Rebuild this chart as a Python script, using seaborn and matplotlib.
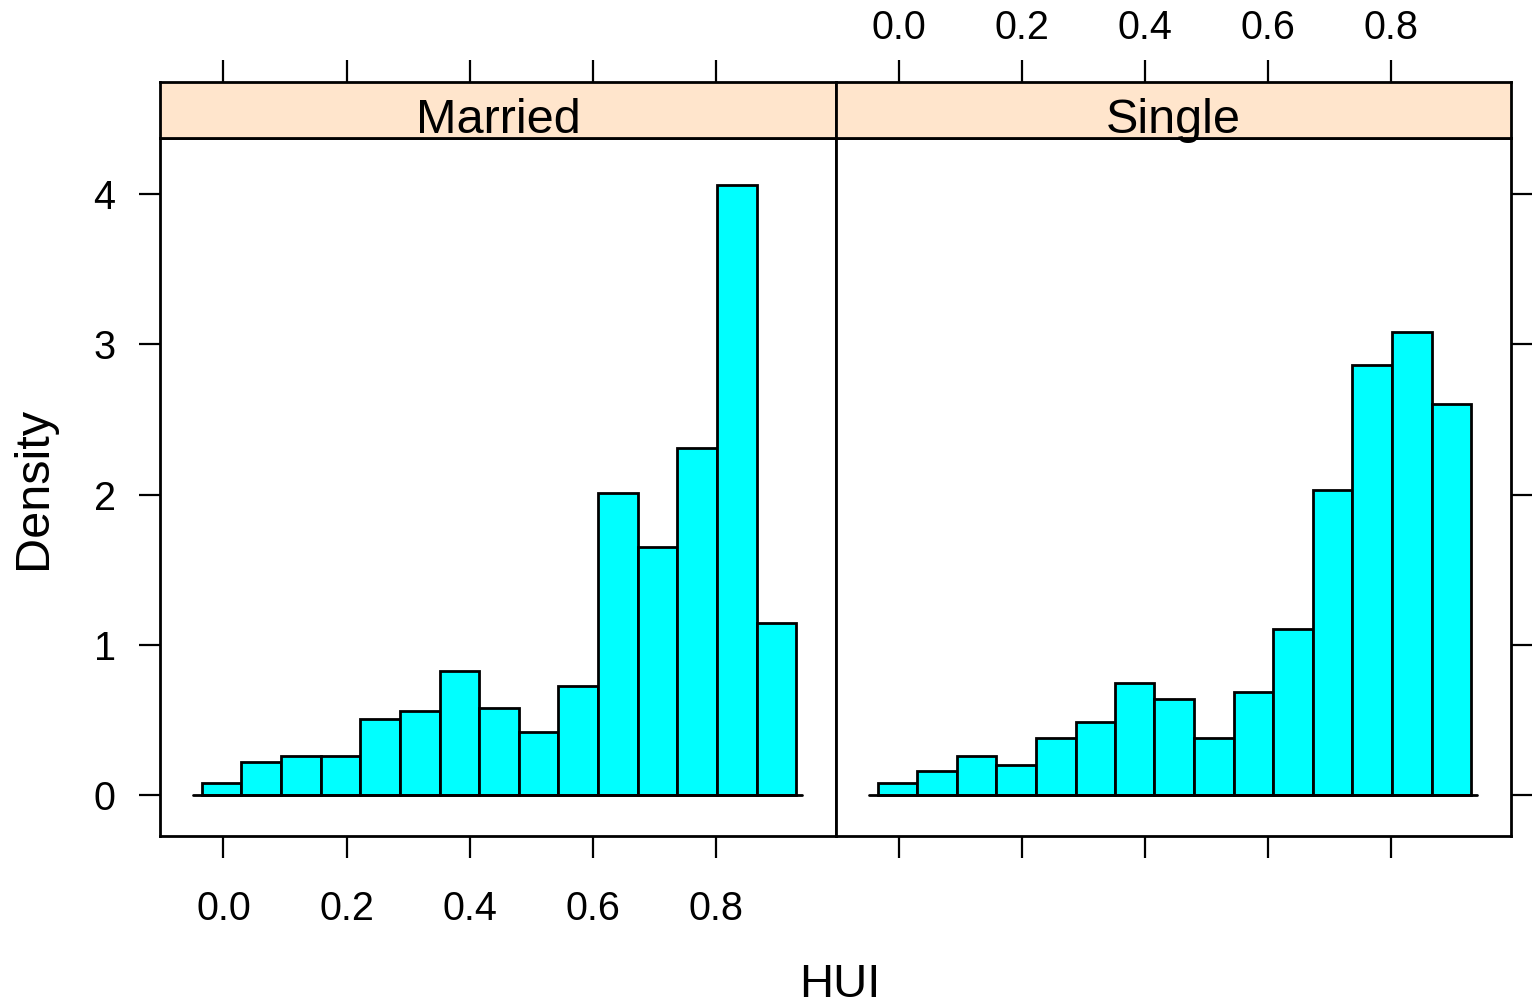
import matplotlib
matplotlib.use("Agg")
import matplotlib.pyplot as plt
import numpy as np
import seaborn as sns

# bin edges shared by both panels (HUI)
edges = [-0.035, 0.029, 0.094, 0.158, 0.222, 0.287, 0.351, 0.415,
         0.480, 0.544, 0.608, 0.673, 0.737, 0.801, 0.866, 0.930]
married = [0.08, 0.22, 0.26, 0.26, 0.505, 0.56, 0.825, 0.58,
           0.42, 0.725, 2.01, 1.65, 2.31, 4.06, 1.145]
single = [0.08, 0.16, 0.26, 0.20, 0.38, 0.485, 0.745, 0.64,
          0.38, 0.685, 1.105, 2.03, 2.86, 3.08, 2.60]
panels = ["Married", "Single"]
xticks = [0.0, 0.2, 0.4, 0.6, 0.8]
yticks = [0, 1, 2, 3, 4]

sns.set_style("white")
plt.rcParams["font.family"] = ["Liberation Sans", "DejaVu Sans"]
plt.rcParams["text.color"] = "black"
plt.rcParams["xtick.color"] = "black"
plt.rcParams["ytick.color"] = "black"
plt.rcParams["axes.labelcolor"] = "black"

W, H = 1533, 1008
fig = plt.figure(figsize=(W / 100, H / 100), dpi=100)

xlim = (-0.103, 0.995)
ylim = (-0.273, 4.374)
centers = [(a + b) / 2 for a, b in zip(edges[:-1], edges[1:])]

# pixel boxes: left, right for each panel; panel top/bottom; strip top
boxes = [(160, 836), (836, 1511)]
p_top, p_bot, s_top = 138, 836, 82
lw = 2.0

for i, (name, dens) in enumerate(zip(panels, [married, single])):
    x0, x1 = boxes[i]
    ax = fig.add_axes([x0 / W, 1 - p_bot / H, (x1 - x0) / W, (p_bot - p_top) / H])
    sax = fig.add_axes([x0 / W, 1 - p_top / H, (x1 - x0) / W, (p_top - s_top) / H])

    sns.histplot(x=centers, weights=dens, bins=edges, stat="count",
                 color="#00FFFF", edgecolor="black", linewidth=lw,
                 alpha=1, ax=ax)
    ax.plot([-0.05, 0.94], [0, 0], color="black", lw=lw, zorder=5)
    ax.set_xlim(xlim)
    ax.set_ylim(ylim)
    ax.set_xlabel("")
    ax.set_ylabel("")
    ax.set_xticks(xticks)
    ax.set_xticklabels(["%.1f" % t for t in xticks])
    ax.set_yticks(yticks)
    for sp in ax.spines.values():
        sp.set_linewidth(lw)
        sp.set_color("black")

    if i == 0:
        ax.tick_params(axis="x", bottom=True, labelbottom=True, top=False,
                       direction="out", length=16, width=1.6, pad=23, labelsize=28.5)
        ax.tick_params(axis="y", left=True, labelleft=True, right=False,
                       direction="out", length=15, width=1.6, pad=17, labelsize=28.5)
    else:
        ax.tick_params(axis="x", bottom=True, labelbottom=False, top=False,
                       direction="out", length=16, width=1.6)
        ax.tick_params(axis="y", left=False, labelleft=False, right=True,
                       labelright=False, direction="out", length=15, width=1.6)

    # strip
    sax.set_facecolor("#FFE5CC")
    sax.set_xlim(xlim)
    sax.set_ylim(0, 1)
    sax.set_yticks([])
    sax.set_xticks(xticks)
    sax.set_xticklabels(["%.1f" % t for t in xticks])
    sax.tick_params(axis="x", bottom=False, labelbottom=False, top=True,
                    labeltop=(i == 1), direction="out", length=16, width=1.6,
                    pad=9, labelsize=28.5)
    for sp in sax.spines.values():
        sp.set_linewidth(lw)
        sp.set_color("black")
    sax.text(0.5, 0.32, name, transform=sax.transAxes, ha="center",
             va="center", fontsize=35)

fig.text(840 / W, 1 - 985 / H, "HUI", ha="center", va="center", fontsize=34)
fig.text(33 / W, 1 - 488 / H, "Density", ha="center", va="center",
         rotation=90, fontsize=35)

fig.savefig("out.png", dpi=100)
